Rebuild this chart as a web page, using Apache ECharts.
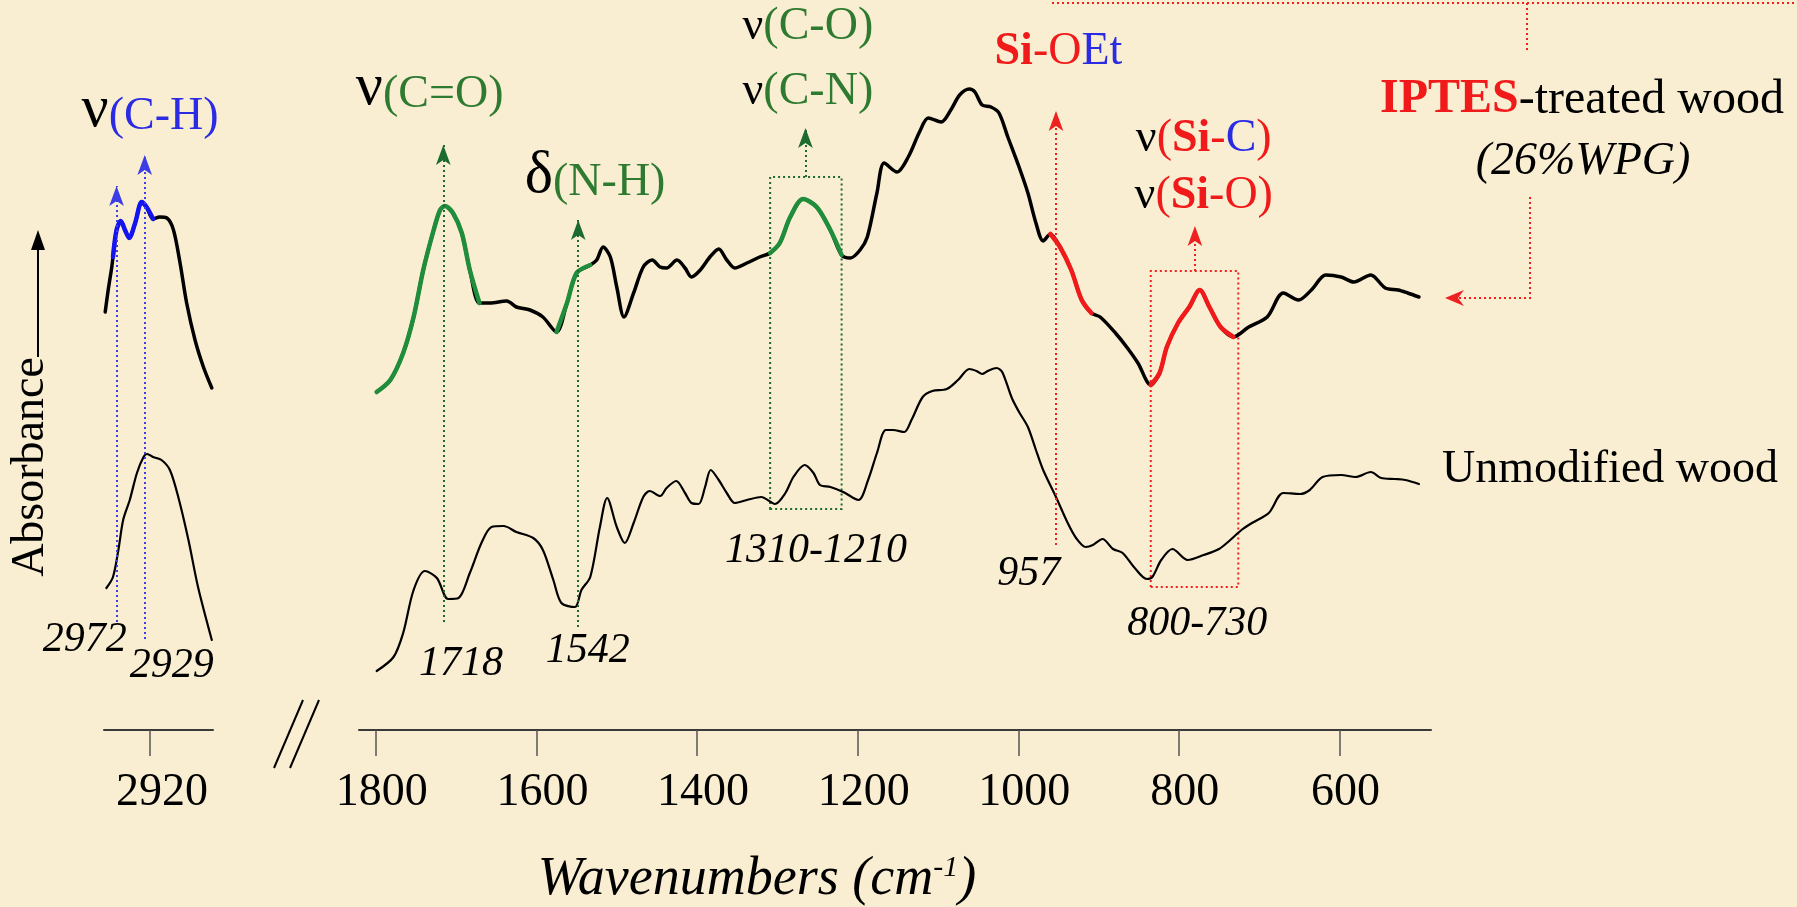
<!DOCTYPE html>
<html><head><meta charset="utf-8">
<script src="https://cdn.jsdelivr.net/npm/echarts@6/dist/echarts.min.js"></script>
<style>html,body{margin:0;padding:0;background:#f9eed1;}#c{width:1797px;height:907px;}</style>
</head><body><div id="c"></div>
<script>
// ---- data: [wavenumber (cm-1), absorbance (arb. units)] ----
const iptesMain = [[1799,3.38],[1782,3.50],[1766,3.77],[1753,4.13],[1741,4.60],[1728,5.00],[1720,5.20],[1714,5.24],[1704,5.17],[1693,4.97],[1683,4.60],[1671,4.27],[1658,4.27],[1637,4.29],[1625,4.23],[1608,4.20],[1592,4.13],[1575,3.98],[1562,4.27],[1550,4.57],[1533,4.65],[1525,4.70],[1517,4.83],[1508,4.73],[1500,4.43],[1491,4.13],[1479,4.37],[1467,4.63],[1456,4.70],[1446,4.63],[1438,4.62],[1425,4.70],[1415,4.62],[1407,4.53],[1396,4.60],[1384,4.73],[1373,4.81],[1363,4.70],[1353,4.62],[1338,4.67],[1322,4.73],[1309,4.77],[1297,4.87],[1284,5.13],[1268,5.31],[1251,5.23],[1234,5.00],[1220,4.75],[1209,4.72],[1197,4.80],[1188,4.93],[1176,5.37],[1167,5.67],[1151,5.58],[1137,5.73],[1123,5.98],[1112,6.12],[1096,6.08],[1084,6.20],[1073,6.35],[1061,6.41],[1054,6.38],[1045,6.25],[1034,6.23],[1024,6.17],[1013,5.93],[999,5.63],[988,5.37],[978,5.07],[969,4.89],[960,4.96],[948,4.83],[934,4.60],[921,4.30],[909,4.17],[898,4.13],[879,3.97],[865,3.83],[851,3.67],[835,3.45],[824,3.57],[815,3.83],[801,4.07],[787,4.23],[774,4.40],[762,4.23],[748,4.03],[732,3.93],[713,4.03],[690,4.13],[670,4.37],[651,4.30],[635,4.40],[617,4.55],[598,4.53],[582,4.48],[561,4.55],[543,4.42],[527,4.40],[515,4.37],[501,4.33]];
const unmodMain = [[1799,0.59],[1778,0.73],[1766,0.97],[1753,1.40],[1739,1.59],[1724,1.52],[1710,1.31],[1697,1.32],[1683,1.57],[1668,1.88],[1656,2.03],[1641,2.04],[1625,1.98],[1604,1.92],[1592,1.80],[1579,1.50],[1569,1.27],[1552,1.23],[1544,1.40],[1533,1.53],[1521,2.03],[1512,2.32],[1500,2.03],[1490,1.87],[1479,2.07],[1467,2.33],[1459,2.39],[1446,2.34],[1438,2.42],[1426,2.49],[1415,2.37],[1407,2.27],[1398,2.26],[1390,2.43],[1383,2.60],[1373,2.50],[1363,2.37],[1353,2.27],[1338,2.30],[1320,2.33],[1303,2.26],[1290,2.37],[1280,2.53],[1266,2.65],[1255,2.57],[1247,2.45],[1234,2.43],[1218,2.38],[1199,2.30],[1187,2.50],[1176,2.77],[1165,3.00],[1156,3.00],[1142,2.98],[1133,3.10],[1119,3.33],[1107,3.39],[1089,3.41],[1075,3.50],[1061,3.61],[1052,3.59],[1045,3.56],[1038,3.59],[1027,3.62],[1020,3.58],[1008,3.32],[999,3.18],[988,3.03],[978,2.80],[969,2.60],[953,2.33],[939,2.08],[928,1.92],[916,1.83],[907,1.85],[895,1.91],[882,1.81],[870,1.77],[856,1.63],[840,1.51],[833,1.53],[822,1.70],[808,1.81],[789,1.70],[769,1.75],[750,1.81],[736,1.90],[722,2.00],[709,2.07],[688,2.17],[670,2.37],[649,2.36],[637,2.40],[621,2.53],[598,2.55],[580,2.53],[561,2.58],[548,2.52],[531,2.51],[518,2.50],[501,2.46]];
const iptesCH = [[2995,4.18],[2990,4.40],[2984,4.63],[2982,4.73],[2976,5.00],[2969,5.09],[2962,5.00],[2955,4.92],[2945,5.07],[2934,5.28],[2926,5.23],[2915,5.11],[2904,5.13],[2892,5.12],[2881,5.00],[2870,4.67],[2859,4.27],[2845,3.90],[2831,3.63],[2817,3.42]];
const unmodCH = [[2993,1.42],[2982,1.53],[2973,1.80],[2965,2.10],[2954,2.30],[2942,2.57],[2931,2.73],[2925,2.76],[2915,2.73],[2901,2.70],[2887,2.60],[2873,2.33],[2856,1.90],[2840,1.43],[2817,0.90]];
const ticksMain = [1800,1600,1400,1200,1000,800,600];
const ticksCH = [2920];
// highlighted band ranges [from, to] (cm-1)
const greenBands = [[1799,1671],[1575,1533],[1309,1220]];
const redBands = [[960,909],[835,732]];
const blueBands = [[2982,2915]];
// marker lines [wavenumber, bottom, top]
const chLines = [[2976,1.08,5.52],[2929,0.91,5.83]];
const greenLines = [[1716,1.08,5.93],[1548,1.03,5.18],[1265,5.53,6.10]];
const redLines = [[953,1.85,6.27],[780,4.59,5.12]];
const greenBoxes = [[1309,2.21,1220,5.53]];
const redBoxes = [[835,1.43,726,4.59]];

const FONT = '"Liberation Serif","Times New Roman",serif';
const COL = {green:'#1f8d3b', greenText:'#2f7a31', greenDot:'#1c6a2d', red:'#f01a1a', redDot:'#ee2020', blue:'#1414f0', blueText:'#2b2be4', blueDot:'#3d3de6'};

const chart = echarts.init(document.getElementById('c'));

function pick(data, r){ return data.filter(p => p[0] <= r[0] && p[0] >= r[1]); }
function vlines(arr){ return arr.map(l => [{coord:[l[0],l[1]]},{coord:[l[0],l[2]-0.08]}]); }
function boxes(arr){ return arr.map(b => [{coord:[b[0],b[1]]},{coord:[b[2],b[3]]}]); }
function mk(color, lines, bx){
  const o = {};
  if (lines) o.markLine = {silent:true, symbol:['none','arrow'], symbolSize:[11,20], animation:false,
    label:{show:false}, lineStyle:{type:[2,3], width:2, color:color}, emphasis:{disabled:true}, data:vlines(lines)};
  if (bx) o.markArea = {silent:true, animation:false, label:{show:false},
    itemStyle:{color:'rgba(0,0,0,0)', borderColor:color, borderWidth:2, borderType:[2,3]}, data:boxes(bx)};
  return o;
}
function line(idx, data, color, width, extra){
  return Object.assign({type:'line', xAxisIndex:idx, yAxisIndex:idx, data:data, showSymbol:false, smooth:0.3,
    animation:false, silent:true, lineStyle:{color:color, width:width, cap:'round', join:'round'}, z:3}, extra||{});
}

const series = [];
series.push(line(0, unmodCH, '#000', 2.2, mk(COL.blueDot, chLines)));
series.push(line(0, iptesCH, '#000', 3.5));
blueBands.forEach(r => series.push(line(0, pick(iptesCH, r), COL.blue, 4.5, {z:4})));
series.push(line(1, unmodMain, '#000', 2.2));
series.push(line(1, iptesMain, '#000', 3.5));
greenBands.forEach((r,i) => series.push(line(1, pick(iptesMain, r), COL.green, 4.5, Object.assign({z:4}, i===0 ? mk(COL.greenDot, greenLines, greenBoxes) : {}))));
redBands.forEach((r,i) => series.push(line(1, pick(iptesMain, r), COL.red, 4.5, Object.assign({z:4}, i===0 ? mk(COL.redDot, redLines, redBoxes) : {}))));

function xAxis(idx, min, max, ticks, pad){
  return {type:'value', gridIndex:idx, inverse:true, min:min, max:max, splitLine:{show:false},
    axisLine:{onZero:false, lineStyle:{color:'#3a3a3a', width:2}},
    axisTick:{show:true, length:26, customValues:ticks, lineStyle:{color:'#555', width:1.5}},
    axisLabel:{customValues:ticks, formatter:function(v){return String(v);}, margin:40, color:'#000', fontFamily:FONT, fontSize:46, padding:[0,0,0,pad]}};
}

chart.setOption({
  backgroundColor:'#f9eed1',
  grid:[{left:104, width:109, top:0, height:730}, {left:359, width:1072, top:0, height:730}],
  xAxis:[xAxis(0, 2815, 2997, ticksCH, 24), xAxis(1, 486, 1821, ticksMain, 12)],
  yAxis:[{type:'value', gridIndex:0, min:0, max:7.3, show:false}, {type:'value', gridIndex:1, min:0, max:7.3, show:false}],
  series:series
});

function px(g, wn, a){ return chart.convertToPixel({xAxisIndex:g, yAxisIndex:g}, [wn, a]); }
const R = {
  g:{fontSize:60, fontFamily:FONT, fill:'#000', lineHeight:60, verticalAlign:'bottom'},
  k:{fontSize:46, fontFamily:FONT, fill:'#000', lineHeight:46, verticalAlign:'bottom'},
  gr:{fontSize:46, fontFamily:FONT, fill:COL.greenText, lineHeight:46, verticalAlign:'bottom'},
  bl:{fontSize:46, fontFamily:FONT, fill:COL.blueText, lineHeight:46, verticalAlign:'bottom'},
  rd:{fontSize:46, fontFamily:FONT, fill:COL.red, lineHeight:46, verticalAlign:'bottom'},
  rb:{fontSize:46, fontFamily:FONT, fill:COL.red, fontWeight:'bold', lineHeight:46, verticalAlign:'bottom'}
};
function label(g, wn, a, text){
  const p = px(g, wn, a);
  return {type:'text', x:p[0], y:p[1], silent:true, z:10, style:{text:text, rich:R, align:'center', verticalAlign:'middle'}};
}
function ital(g, wn, a, text){
  const p = px(g, wn, a);
  return {type:'text', x:p[0], y:p[1], silent:true, z:10, style:{text:text, fontFamily:FONT, fontStyle:'italic', fontSize:42, fill:'#000', align:'center', verticalAlign:'middle'}};
}
const dot = {stroke:COL.redDot, lineWidth:2, lineDash:[2,3], fill:null};

const graphic = [
  label(0, 2920, 6.20, '{g|ν}{bl|(C-H)}'),
  label(1, 1733, 6.42, '{g|ν}{gr|(C=O)}'),
  label(1, 1527, 5.54, '{g|δ}{gr|(N-H)}'),
  label(1, 1262, 7.03, '{k|ν}{gr|(C-O)}'),
  label(1, 1262, 6.38, '{k|ν}{gr|(C-N)}'),
  label(1, 950, 6.78, '{rb|Si}{rd|-O}{bl|Et}'),
  label(1, 769, 5.91, '{k|ν}{rd|(}{rb|Si}{rd|-}{bl|C}{rd|)}'),
  label(1, 769, 5.34, '{k|ν}{rd|(}{rb|Si}{rd|-O)}'),
  ital(0, 3029, 0.90, '2972'),
  ital(0, 2884, 0.64, '2929'),
  ital(1, 1694, 0.66, '1718'),
  ital(1, 1536, 0.79, '1542'),
  ital(1, 1252, 1.79, '1310-1210'),
  ital(1, 987, 1.56, '957'),
  ital(1, 777, 1.06, '800-730'),
  {type:'text', x:1582, y:100, silent:true, style:{text:'{a|IPTES}{b|-treated wood}', align:'center', verticalAlign:'middle',
    rich:{a:{fontSize:48, fontFamily:FONT, fontWeight:'bold', fill:COL.red}, b:{fontSize:48, fontFamily:FONT, fill:'#000'}}}},
  {type:'text', x:1583, y:162, silent:true, style:{text:'(26%WPG)', fontFamily:FONT, fontStyle:'italic', fontSize:46, fill:'#000', align:'center', verticalAlign:'middle'}},
  {type:'text', x:1442, y:470, silent:true, style:{text:'Unmodified wood', fontFamily:FONT, fontSize:46, fill:'#000', align:'left', verticalAlign:'middle'}},
  {type:'text', x:757, y:880, silent:true, style:{text:'{a|Wavenumbers (cm}{s|-1}{a|)}', align:'center', verticalAlign:'middle',
    rich:{a:{fontSize:54, fontFamily:FONT, fontStyle:'italic', fill:'#000', lineHeight:54, verticalAlign:'bottom'}, s:{fontSize:30, fontFamily:FONT, fontStyle:'italic', fill:'#000', lineHeight:54, verticalAlign:'top'}}}},
  {type:'text', x:31, y:467, rotation:Math.PI/2, silent:true, style:{text:'Absorbance', fontFamily:FONT, fontSize:46, fill:'#000', align:'center', verticalAlign:'middle'}},
  {type:'polyline', silent:true, shape:{points:[[38,357],[38,246]]}, style:{stroke:'#000', lineWidth:2, fill:null}},
  {type:'polygon', silent:true, shape:{points:[[38,230],[31,250],[45,250]]}, style:{fill:'#000'}},
  {type:'polyline', silent:true, shape:{points:[[274,768],[303,700]]}, style:{stroke:'#000', lineWidth:2, fill:null}},
  {type:'polyline', silent:true, shape:{points:[[290,768],[319,700]]}, style:{stroke:'#000', lineWidth:2, fill:null}},
  {type:'polyline', silent:true, shape:{points:[[1052,3],[1797,3]]}, style:dot},
  {type:'polyline', silent:true, shape:{points:[[1527,3],[1527,50]]}, style:dot},
  {type:'polyline', silent:true, shape:{points:[[1530,197],[1530,298],[1456,298]]}, style:dot},
  {type:'polygon', silent:true, shape:{points:[[1445,298],[1464,290],[1458,298],[1464,306]]}, style:{fill:COL.redDot}}
];
chart.setOption({graphic:graphic});
</script></body></html>
